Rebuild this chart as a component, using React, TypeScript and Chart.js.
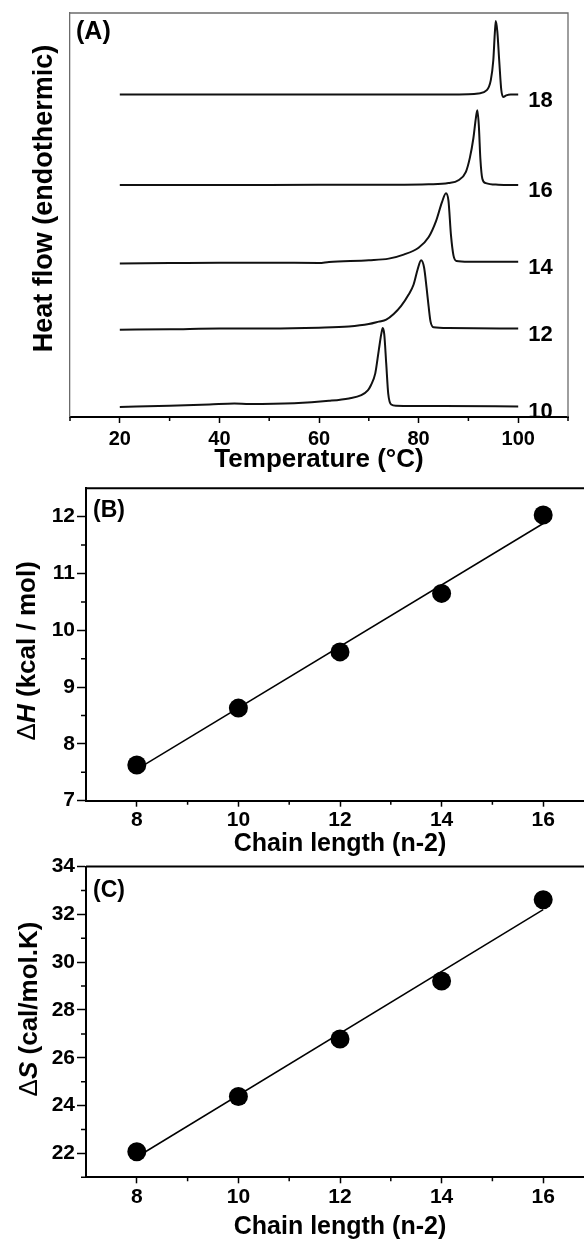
import React, { useEffect, useRef } from 'react';
import { Chart, registerables } from 'chart.js';

Chart.register(...registerables);

const FAMILY = '"Liberation Sans", Arial, Helvetica, sans-serif';

// ---------------- Panel A : DSC thermograms ----------------
const tempMajorTicks = [20, 40, 60, 80, 100];
const tempMinorTicks = [10, 30, 50, 70, 90, 110];
const curveNames = ['10', '12', '14', '16', '18'];

const curve10: [number, number][] = [
  [20, 2.5], [30, 2.8], [38, 3.1], [43, 3.35], [46, 3.2], [55, 3.4], [62, 4.0], [66, 4.6],
  [68.5, 5.4], [69.8, 6.6], [70.4, 7.8], [71.3, 10.8], [72, 16.5], [72.5, 20.5], [72.8, 22],
  [73.1, 20.5], [73.5, 13.2], [73.9, 5.8], [74.5, 3.1], [75.5, 2.8], [85, 2.7], [100, 2.6],
];
const curve12: [number, number][] = [
  [20, 21.6], [30, 21.7], [40, 21.9], [50, 21.9], [60, 22.1], [66, 22.4], [70, 23.0], [72, 23.6],
  [73.5, 24.1], [75, 25.5], [76.5, 27.5], [78, 30.3], [79, 32.8], [79.8, 36.5], [80.5, 38.8],
  [81.1, 37], [81.6, 32], [82, 27.5], [82.4, 23.6], [83, 22.2], [86, 22.0], [100, 21.9],
];
const curve14: [number, number][] = [
  [20, 38.0], [30, 38.1], [40, 38.2], [50, 38.2], [60, 38.1], [62, 38.35], [70, 38.8], [74, 39.2],
  [77, 40.2], [80, 41.9], [82, 44.5], [83.5, 48.5], [84.7, 53.2], [85.5, 55.4], [86, 53.5],
  [86.5, 45], [87, 40], [87.6, 38.6], [90, 38.4], [100, 38.4],
];
const curve16: [number, number][] = [
  [20, 57.4], [40, 57.4], [60, 57.5], [75, 57.5], [82, 57.6], [86, 57.9], [88, 58.6], [89.5, 60.7],
  [90.3, 64.2], [91, 69], [91.5, 74], [91.8, 75.9], [92.1, 72], [92.4, 64], [92.8, 59],
  [93.5, 57.9], [96, 57.5], [100, 57.4],
];
const curve18: [number, number][] = [
  [20, 79.8], [40, 79.8], [60, 79.8], [80, 79.8], [90, 79.9], [92, 80.1], [93.7, 80.9],
  [94.5, 83.4], [95, 88.3], [95.3, 94.9], [95.5, 98], [95.8, 95.5], [96.2, 88], [96.6, 81],
  [97, 79.2], [97.6, 79.6], [98.5, 79.8], [100, 79.8],
];
const curves = [curve10, curve12, curve14, curve16, curve18];

// ---------------- Panel B : enthalpy ----------------
const chainLength = [8, 10, 12, 14, 16];
const deltaH = [7.63, 8.63, 9.62, 10.65, 12.03];
const fitChain = [8, 16];
const fitDeltaH = [7.55, 11.88];
const chainMajorTicks = [8, 10, 12, 14, 16];
const chainMinorTicks = [9, 11, 13, 15];
const hMajorTicks = [7, 8, 9, 10, 11, 12];
const hMinorTicks = [7.5, 8.5, 9.5, 10.5, 11.5];

// ---------------- Panel C : entropy ----------------
const deltaS = [22.07, 24.38, 26.79, 29.21, 32.61];
const fitDeltaS = [21.85, 32.2];
const sMajorTicks = [22, 24, 26, 28, 30, 32, 34];
const sMinorTicks = [21, 23, 25, 27, 29, 31, 33];

// ---------------- helpers ----------------
type Seg = { t: string; f: string };

function drawSegs(ctx: CanvasRenderingContext2D, segs: Seg[], x: number, y: number, rotate: boolean, align: 'center' | 'left') {
  ctx.save();
  ctx.translate(x, y);
  if (rotate) ctx.rotate(-Math.PI / 2);
  ctx.textBaseline = 'alphabetic';
  ctx.textAlign = 'left';
  ctx.fillStyle = '#000';
  let total = 0;
  for (const s of segs) {
    ctx.font = s.f;
    total += ctx.measureText(s.t).width;
  }
  let cx = align === 'center' ? -total / 2 : 0;
  for (const s of segs) {
    ctx.font = s.f;
    ctx.fillText(s.t, cx, 0);
    cx += ctx.measureText(s.t).width;
  }
  ctx.restore();
}

function drawMinor(chart: any, axis: 'x' | 'y', values: number[], len: number) {
  const s = chart.scales[axis];
  const a = chart.chartArea;
  const ctx = chart.ctx as CanvasRenderingContext2D;
  ctx.save();
  ctx.strokeStyle = '#000';
  ctx.lineWidth = 1.5;
  ctx.beginPath();
  for (const v of values) {
    const p = s.getPixelForValue(v);
    if (axis === 'x') {
      ctx.moveTo(p, a.bottom);
      ctx.lineTo(p, a.bottom + len);
    } else {
      ctx.moveTo(a.left, p);
      ctx.lineTo(a.left - len, p);
    }
  }
  ctx.stroke();
  ctx.restore();
}

const bold = (px: number) => `bold ${px}px ${FAMILY}`;
const tickFontA = { family: FAMILY, size: 20, weight: 'bold' as const };
const tickFontBC = { family: FAMILY, size: 21, weight: 'bold' as const };

function ChartCanvas({ top, width, height, build }: { top: number; width: number; height: number; build: () => any }) {
  const ref = useRef<HTMLCanvasElement>(null);
  useEffect(() => {
    const chart = new Chart(ref.current as HTMLCanvasElement, build());
    return () => chart.destroy();
  }, []);
  return (
    <canvas
      ref={ref}
      width={width}
      height={height}
      style={{ position: 'absolute', left: 0, top, width, height }}
    />
  );
}

// ---------------- Panel A config ----------------
const A_TOP = 0, A_W = 584, A_H = 480;
function buildA() {
  return {
    type: 'scatter',
    data: {
      datasets: curves.map((c, i) => ({
        label: curveNames[i],
        data: c.map(([x, y]) => ({ x, y })),
        showLine: true,
        pointRadius: 0,
        borderColor: '#111',
        borderWidth: 2,
        cubicInterpolationMode: 'monotone',
        fill: false,
      })),
    },
    options: {
      animation: false,
      responsive: false,
      events: [],
      layout: { padding: { top: 13, right: 16, left: 0, bottom: 0 }, autoPadding: false },
      plugins: { legend: { display: false }, tooltip: { enabled: false } },
      scales: {
        x: {
          type: 'linear',
          min: 10,
          max: 110,
          afterBuildTicks: (s: any) => { s.ticks = tempMajorTicks.map((v) => ({ value: v })); },
          afterFit: (s: any) => { s.height = A_H - 417; },
          ticks: { font: tickFontA, color: '#000', padding: 4, autoSkip: false, maxRotation: 0 },
          grid: { display: true, drawOnChartArea: false, drawTicks: true, tickLength: 6, tickWidth: 1.5, tickColor: '#000' },
          border: { display: true, color: '#000', width: 2 },
        },
        y: {
          type: 'linear',
          min: 0,
          max: 100,
          afterFit: (s: any) => { s.width = 70; },
          ticks: { display: false },
          grid: { display: false },
          border: { display: true, color: '#6b6b6b', width: 1.3 },
        },
      },
    },
    plugins: [
      {
        id: 'decorA',
        afterDraw(chart: any) {
          const ctx = chart.ctx as CanvasRenderingContext2D;
          const a = chart.chartArea;
          ctx.save();
          ctx.strokeStyle = '#6b6b6b';
          ctx.lineWidth = 1.3;
          ctx.beginPath();
          ctx.moveTo(a.left, a.top);
          ctx.lineTo(a.right, a.top);
          ctx.lineTo(a.right, a.bottom);
          ctx.stroke();
          ctx.restore();
          drawMinor(chart, 'x', tempMinorTicks, 4);
          const xs = chart.scales.x, ys = chart.scales.y;
          curves.forEach((c, i) => {
            const last = c[c.length - 1];
            const px = xs.getPixelForValue(last[0]) + 10;
            const py = ys.getPixelForValue(last[1]) + 12;
            drawSegs(ctx, [{ t: curveNames[i], f: bold(22) }], px, py, false, 'left');
          });
          drawSegs(ctx, [{ t: '(A)', f: bold(25) }], a.left + 6, 39 - A_TOP, false, 'left');
          drawSegs(ctx, [{ t: 'Heat flow (endothermic)', f: bold(27) }], 52, 198.5 - A_TOP, true, 'center');
          drawSegs(ctx, [{ t: 'Temperature (°C)', f: bold(26) }], (a.left + a.right) / 2, 467 - A_TOP, false, 'center');
        },
      },
    ],
  };
}

// ---------------- Panels B & C config ----------------
function buildScatter(opts: {
  top: number; height: number; values: number[]; fitValues: number[];
  yMin: number; yMax: number; yMajor: number[]; yMinor: number[];
  areaTop: number; areaBottom: number; letter: string; letterBase: number;
  sym: string; unit: string; yTitleX: number; yTitleY: number; xTitleBase: number;
}) {
  const W = 640;
  return {
    type: 'scatter',
    data: {
      datasets: [
        {
          data: chainLength.map((x, i) => ({ x, y: opts.values[i] })),
          pointRadius: 9.5,
          pointBackgroundColor: '#000',
          pointBorderWidth: 0,
          showLine: false,
          order: 0,
        },
        {
          data: fitChain.map((x, i) => ({ x, y: opts.fitValues[i] })),
          showLine: true,
          pointRadius: 0,
          borderColor: '#000',
          borderWidth: 1.5,
          order: 1,
        },
      ],
    },
    options: {
      animation: false,
      responsive: false,
      events: [],
      layout: { padding: { top: opts.areaTop - opts.top, right: W - 594, left: 0, bottom: 0 }, autoPadding: false },
      plugins: { legend: { display: false }, tooltip: { enabled: false } },
      scales: {
        x: {
          type: 'linear',
          min: 7,
          max: 17,
          afterBuildTicks: (s: any) => { s.ticks = chainMajorTicks.map((v) => ({ value: v })); },
          afterFit: (s: any) => { s.height = opts.height - (opts.areaBottom - opts.top); },
          ticks: { font: tickFontBC, color: '#000', padding: 1, autoSkip: false, maxRotation: 0 },
          grid: { display: true, drawOnChartArea: false, drawTicks: true, tickLength: 6, tickWidth: 1.5, tickColor: '#000' },
          border: { display: true, color: '#000', width: 2 },
        },
        y: {
          type: 'linear',
          min: opts.yMin,
          max: opts.yMax,
          afterBuildTicks: (s: any) => { s.ticks = opts.yMajor.map((v) => ({ value: v })); },
          afterFit: (s: any) => { s.width = 86; },
          ticks: { font: tickFontBC, color: '#000', padding: 2, autoSkip: false },
          grid: { display: true, drawOnChartArea: false, drawTicks: true, tickLength: 9, tickWidth: 1.5, tickColor: '#000' },
          border: { display: true, color: '#000', width: 2 },
        },
      },
    },
    plugins: [
      {
        id: 'decor' + opts.letter,
        afterDraw(chart: any) {
          const ctx = chart.ctx as CanvasRenderingContext2D;
          const a = chart.chartArea;
          ctx.save();
          ctx.strokeStyle = '#000';
          ctx.lineWidth = 2;
          ctx.beginPath();
          ctx.moveTo(a.left, a.top);
          ctx.lineTo(a.right, a.top);
          ctx.stroke();
          ctx.restore();
          drawMinor(chart, 'x', chainMinorTicks, 4);
          drawMinor(chart, 'y', opts.yMinor, 5);
          drawSegs(ctx, [{ t: `(${opts.letter})`, f: bold(23) }], a.left + 7, opts.letterBase - opts.top, false, 'left');
          drawSegs(
            ctx,
            [
              { t: 'Δ', f: `26px ${FAMILY}` },
              { t: opts.sym, f: `italic bold 26px ${FAMILY}` },
              { t: ' ' + opts.unit, f: bold(26) },
            ],
            opts.yTitleX,
            opts.yTitleY - opts.top,
            true,
            'center'
          );
          drawSegs(ctx, [{ t: 'Chain length (n-2)', f: bold(25) }], (a.left + a.right) / 2, opts.xTitleBase - opts.top, false, 'center');
        },
      },
    ],
  };
}

const B_TOP = 470, B_H = 392;
const C_TOP = 852, C_H = 387;

function buildB() {
  return buildScatter({
    top: B_TOP, height: B_H, values: deltaH, fitValues: fitDeltaH,
    yMin: 7, yMax: 12.5, yMajor: hMajorTicks, yMinor: hMinorTicks,
    areaTop: 488.3, areaBottom: 800.7, letter: 'B', letterBase: 517,
    sym: 'H', unit: '(kcal / mol)', yTitleX: 35.4, yTitleY: 650.8, xTitleBase: 851,
  });
}

function buildC() {
  return buildScatter({
    top: C_TOP, height: C_H, values: deltaS, fitValues: fitDeltaS,
    yMin: 21, yMax: 34, yMajor: sMajorTicks, yMinor: sMinorTicks,
    areaTop: 865, areaBottom: 1177.3, letter: 'C', letterBase: 897,
    sym: 'S', unit: '(cal/mol.K)', yTitleX: 37, yTitleY: 1009, xTitleBase: 1234,
  });
}

export default function App() {
  return (
    <div
      style={{
        position: 'fixed',
        left: 0,
        top: 0,
        width: 584,
        height: 1239,
        overflow: 'hidden',
        background: '#fff',
      }}
    >
      <ChartCanvas top={A_TOP} width={A_W} height={A_H} build={buildA} />
      <ChartCanvas top={B_TOP} width={640} height={B_H} build={buildB} />
      <ChartCanvas top={C_TOP} width={640} height={C_H} build={buildC} />
    </div>
  );
}
